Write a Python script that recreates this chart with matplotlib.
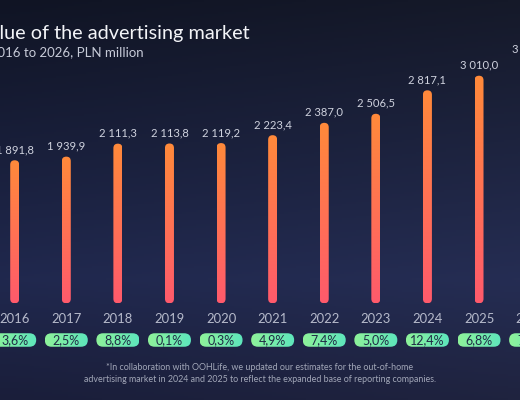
import numpy as np
import matplotlib
matplotlib.use("Agg")
import matplotlib.pyplot as plt
from matplotlib.patches import FancyBboxPatch
from matplotlib.colors import LinearSegmentedColormap
from matplotlib.transforms import blended_transform_factory

plt.rcParams['font.family'] = ['Lato', 'DejaVu Sans']

# ---- data ----
years = ["2016", "2017", "2018", "2019", "2020", "2021", "2022", "2023", "2024", "2025", "2026"]
values = [1891.8, 1939.9, 2111.3, 2113.8, 2119.2, 2223.4, 2387.0, 2506.5, 2817.1, 3010.0, 3220.0]
growth = [3.6, 2.5, 8.8, 0.1, 0.3, 4.9, 7.4, 5.0, 12.4, 6.8, 7.0]
title = "Value of the advertising market"
subtitle = "Years 2016 to 2026, PLN million"
footnote1 = "*In collaboration with OOHLife, we updated our estimates for the out-of-home"
footnote2 = "advertising market in 2024 and 2025 to reflect the expanded base of reporting companies."

def fmt_value(v):
    return f"{v:,.1f}".replace(",", " ").replace(".", ",")

def fmt_pct(g):
    return f"{g:.1f}%".replace(".", ",")

W, H = 520, 400
fig = plt.figure(figsize=(W / 100, H / 100), dpi=100)

# background gradient
bg = fig.add_axes([0, 0, 1, 1])
bg.axis('off')
ny, nx = 200, 260
yy = np.linspace(0, 1, ny)[:, None]  # 0 top -> 1 bottom
xx = np.linspace(0, 1, nx)[None, :]
top = np.array([16, 20, 36]) / 255
mid = np.array([32, 40, 78]) / 255
bot = np.array([26, 30, 58]) / 255
t = np.clip(yy / 0.7, 0, 1)
col = top * (1 - t[..., None]) + mid * t[..., None]
t2 = np.clip((yy - 0.7) / 0.3, 0, 1)
col = col * (1 - t2[..., None]) + bot * t2[..., None]
col = col + (0.02 * xx)[..., None] * np.ones(3)
col = np.broadcast_to(col, (ny, nx, 3))
bg.imshow(np.clip(col, 0, 1), extent=[0, 1, 0, 1], aspect='auto', zorder=0)
bg.set_xlim(0, 1); bg.set_ylim(0, 1)

# main axes with pixel-matched scales
px_per_x = 51.59
x0_px = 14.7
px_per_v = 0.07561
zero_px = 96.7
ax = fig.add_axes([0, 0, 1, 1])
ax.patch.set_alpha(0)
ax.axis('off')
xlim = (-x0_px / px_per_x, (W - x0_px) / px_per_x)
ylim = (-zero_px / px_per_v, (H - zero_px) / px_per_v)

bar_cmap = LinearSegmentedColormap.from_list("bar", ["#ff5a6c", "#ff8a3a"])
bw = 9 / px_per_x
rr = 4.5 / px_per_x
ma = px_per_x / px_per_v
grad = np.linspace(0, 1, 256)[:, None]
xs = np.arange(len(years))
for i, v in zip(xs, values):
    p = FancyBboxPatch((i - bw / 2, 0), bw, v,
                       boxstyle=f"round,pad=0,rounding_size={rr}",
                       mutation_aspect=ma, facecolor='none', edgecolor='none')
    ax.add_patch(p)
    im = ax.imshow(grad, extent=(i - bw / 2, i + bw / 2, 0, v), origin='lower',
                   cmap=bar_cmap, aspect='auto', zorder=2)
    im.set_clip_path(p)
    ax.annotate(fmt_value(v), (i, v), xytext=(0, 5.1), textcoords='offset points',
                ha='center', va='baseline', fontsize=8.1, color='#cfd2de',
                annotation_clip=False)
ax.set_xlim(*xlim)
ax.set_ylim(*ylim)

tr = blended_transform_factory(ax.transData, fig.transFigure)
for i, y in zip(xs, years):
    ax.text(i, 1 - 323 / H, y, transform=tr, ha='center', va='baseline',
            fontsize=9.4, color='#b6bacb')

# pill row
pax = fig.add_axes([0, 0.1, 1, 0.1])
pax.patch.set_alpha(0)
pax.axis('off')
pax.set_xlim(*xlim)
ph_units = 40 / px_per_x
pax.set_ylim(0, ph_units)
pill_cmap = LinearSegmentedColormap.from_list("pill", ["#8ef29a", "#5ee6bc"])
pw = 43 / px_per_x
phh = 13.5 / px_per_x
pc = 20 / px_per_x
hgrad = np.linspace(0, 1, 64)[None, :]
for i, g in zip(xs, growth):
    p = FancyBboxPatch((i - pw / 2, pc - phh / 2), pw, phh,
                       boxstyle=f"round,pad=0,rounding_size={phh / 2}",
                       facecolor='none', edgecolor='none')
    pax.add_patch(p)
    im = pax.imshow(hgrad, extent=(i - pw / 2, i + pw / 2, pc - phh / 2, pc + phh / 2),
                    cmap=pill_cmap, aspect='auto', zorder=2)
    im.set_clip_path(p)
    pax.text(i, pc - 4.3 / px_per_x, fmt_pct(g), ha='center', va='baseline',
             fontsize=9.0, color='#1f2b45', zorder=3)
pax.set_xlim(*xlim)
pax.set_ylim(0, ph_units)

# titles
fig.text(250 / W, 1 - 39 / H, title, ha='right', va='baseline',
         fontsize=14.3, color='#f3f4f8')
fig.text(144 / W, 1 - 56.5 / H, subtitle, ha='right', va='baseline',
         fontsize=9.5, color='#c6cad7')

fig.text(0.5, 1 - 370.5 / H, footnote1, ha='center', va='baseline',
         fontsize=6.4, color='#a2a7b8')
fig.text(0.5, 1 - 382 / H, footnote2, ha='center', va='baseline',
         fontsize=6.4, color='#a2a7b8')

fig.savefig("out.png", dpi=100)
